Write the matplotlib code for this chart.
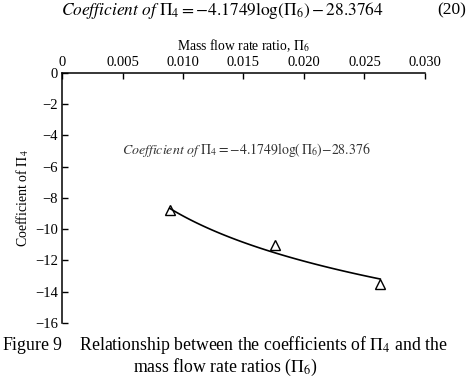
import matplotlib
matplotlib.use("Agg")
import matplotlib.pyplot as plt
import numpy as np

# measured points (mass flow rate ratio vs coefficient of Pi4)
flow_ratio = [0.0089, 0.0176, 0.0263]
coef_pi4 = [-8.8, -11.0, -13.5]

# fitted curve: coef = a*ln(x) + b
fit_a = -4.1749
fit_b = -28.376

x_ticks = [0, 0.005, 0.010, 0.015, 0.020, 0.025, 0.030]
x_ticklabels = ["0", "0.005", "0.010", "0.015", "0.020", "0.025", "0.030"]
y_ticks = [0, -2, -4, -6, -8, -10, -12, -14, -16]

plt.rcParams["font.family"] = ["Liberation Serif", "DejaVu Serif"]
plt.rcParams["mathtext.fontset"] = "stix"

fig = plt.figure(figsize=(4.67, 3.82), dpi=100)
ax = fig.add_axes([0.1328, 0.1545, 0.7772, 0.6545])

xs = np.linspace(min(flow_ratio), max(flow_ratio), 100)
ax.plot(xs, fit_a * np.log(xs) + fit_b, color="black", lw=1.2)
ax.plot(flow_ratio, coef_pi4, linestyle="none", marker="^", markersize=7,
        markerfacecolor="none", markeredgecolor="black", markeredgewidth=1.0)

ax.set_xlim(0, 0.030)
ax.set_ylim(-16, 0)
ax.xaxis.tick_top()
ax.xaxis.set_label_position("top")
ax.set_xticks(x_ticks)
ax.set_xticklabels(x_ticklabels)
ax.set_yticks(y_ticks)
ax.set_yticklabels([str(v).replace("-", "\u2212") for v in y_ticks])
ax.tick_params(direction="in", length=4, width=1, labelsize=10.5, pad=3)
ax.spines["right"].set_visible(False)
ax.spines["bottom"].set_visible(False)
for s in ("top", "left"):
    ax.spines[s].set_linewidth(1.1)

ax.set_xlabel(r"Mass flow rate ratio, $\Pi_6$", fontsize=9.8, labelpad=4)
ax.set_ylabel(r"Coefficient of $\Pi_4$", fontsize=10, labelpad=3)

ax.text(0.00495, -4.95,
        r"$\it{Coefficient\ of}\ \Pi_4{=}{-}4.1749\log(\,\Pi_6){-}28.376$",
        fontsize=10, color="#333333", ha="left", va="center")

fig.text(0.477, 0.972,
         r"$\it{Coefficient\ of}\ \Pi_4{=}{-}4.1749\log(\Pi_6)-28.3764$",
         fontsize=12.5, ha="center", va="center")
fig.text(0.968, 0.972, "(20)", fontsize=12.5, ha="center", va="center")

fig.text(0.482, 0.097,
         r"Figure 9    Relationship between the coefficients of $\Pi_4$ and the",
         fontsize=12.8, ha="center", va="center")
fig.text(0.482, 0.037, r"mass flow rate ratios ($\Pi_6$)",
         fontsize=12.8, ha="center", va="center")

fig.savefig("out.png", dpi=100, facecolor="white")
